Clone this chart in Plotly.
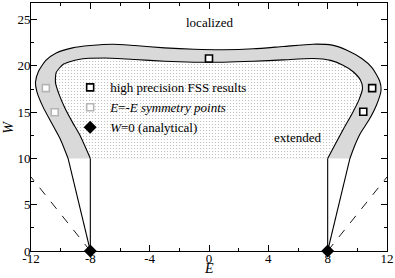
import plotly.graph_objects as go

# ---- data ----
# outer boundary of the critical band (W >= 10)
outer_E = [-9.5, -10.0, -10.6, -11.2, -11.6, -11.7, -11.5, -11.0, -10.3, -9.2, -8.0, -6.5, -5.0, -3.0, -1.0,
           1.0, 3.0, 5.0, 7.0, 8.3, 9.3, 10.3, 11.0, 11.5, 11.6, 11.3, 10.8, 10.2, 9.8, 9.5]
outer_W = [10.0, 12.0, 13.8, 15.6, 17.2, 18.2, 19.4, 20.6, 21.4, 21.95, 22.2, 22.35, 22.2, 21.95, 21.8,
           21.75, 21.85, 22.1, 22.35, 22.25, 21.7, 20.8, 19.8, 18.4, 17.4, 15.8, 14.2, 12.7, 11.3, 10.0]
# inner boundary (extended region, W >= 10)
inner_E = [-8.0, -8.7, -9.2, -9.7, -10.1, -10.35, -10.3, -9.8, -8.8, -7.0, -5.0, -3.0, -1.0,
           1.0, 3.0, 5.0, 7.0, 8.2, 9.0, 9.7, 10.2, 10.35, 10.1, 9.6, 9.1, 8.6, 8.0]
inner_W = [10.0, 12.5, 13.9, 15.4, 16.9, 18.2, 19.3, 20.2, 20.7, 20.85, 20.7, 20.5, 20.4,
           20.4, 20.5, 20.65, 20.8, 20.6, 20.1, 19.4, 18.5, 17.6, 16.3, 14.7, 13.3, 11.8, 10.0]
# lower parts of the boundaries (W < 10)
left_outer_E, left_outer_W = [-8.0, -9.5], [0.0, 10.0]
left_inner_E, left_inner_W = [-8.0, -8.0], [0.0, 10.0]
right_outer_E, right_outer_W = [8.0, 9.5], [0.0, 10.0]
right_inner_E, right_inner_W = [8.0, 8.0], [0.0, 10.0]
# dashed asymptotes
dash_left_E, dash_left_W = [-8.0, -12.0], [0.0, 8.0]
dash_right_E, dash_right_W = [8.0, 12.0], [0.0, 8.0]
# markers
fss_E = [0.0, 11.0, 10.4]
fss_W = [20.8, 17.6, 15.05]
sym_E = [-11.0, -10.4]
sym_W = [17.6, 15.0]
w0_E = [-8.0, 8.0]
w0_W = [0.0, 0.0]
# tick labels
x_tickvals = [-12, -8, -4, 0, 4, 8, 12]
x_ticktext = ["-12", "-8", "-4", "0", "4", "8", "12"]
y_tickvals = [0, 5, 10, 15, 20, 25]
y_ticktext = ["0", "5", "10", "15", "20", "25"]

FONT = "Liberation Serif"

fig = go.Figure()

# gray band
fig.add_trace(go.Scatter(x=outer_E, y=outer_W, mode="lines", fill="toself",
                         fillcolor="#d9d9d9", line=dict(width=0, shape="spline", smoothing=0.6),
                         showlegend=False, hoverinfo="skip"))
# dotted extended region
fig.add_trace(go.Scatter(x=inner_E, y=inner_W, mode="lines", fill="toself",
                         fillcolor="white",
                         fillpattern=dict(shape=".", fgcolor="#707070", bgcolor="white",
                                          size=3, solidity=0.13),
                         line=dict(width=0, shape="spline", smoothing=0.6),
                         showlegend=False, hoverinfo="skip"))

LINE = dict(color="black", width=1.1)
for ex, wy in [(outer_E, outer_W), (inner_E, inner_W)]:
    fig.add_trace(go.Scatter(x=ex, y=wy, mode="lines",
                             line=dict(color="black", width=1.1, shape="spline", smoothing=0.6),
                             showlegend=False, hoverinfo="skip"))
for ex, wy in [(left_outer_E, left_outer_W), (left_inner_E, left_inner_W),
               (right_outer_E, right_outer_W), (right_inner_E, right_inner_W)]:
    fig.add_trace(go.Scatter(x=ex, y=wy, mode="lines", line=LINE,
                             showlegend=False, hoverinfo="skip"))
for ex, wy in [(dash_left_E, dash_left_W), (dash_right_E, dash_right_W)]:
    fig.add_trace(go.Scatter(x=ex, y=wy, mode="lines",
                             line=dict(color="black", width=0.9, dash="dash"),
                             showlegend=False, hoverinfo="skip"))

fig.add_trace(go.Scatter(x=fss_E, y=fss_W, mode="markers", name="high precision FSS results",
                         marker=dict(symbol="square", size=7, color="white",
                                     line=dict(color="black", width=1.6))))
fig.add_trace(go.Scatter(x=sym_E, y=sym_W, mode="markers",
                         name="<i>E</i>=-<i>E symmetry points</i>",
                         marker=dict(symbol="square", size=7, color="white",
                                     line=dict(color="#b5b5b5", width=1.6))))
fig.add_trace(go.Scatter(x=w0_E, y=w0_W, mode="markers", name="<i>W</i>=0 (analytical)",
                         cliponaxis=False,
                         marker=dict(symbol="diamond", size=10, color="black",
                                     line=dict(color="black", width=0))))

fig.add_annotation(x=0, y=24.7, text="localized", showarrow=False,
                   font=dict(family=FONT, size=13, color="black"))
fig.add_annotation(x=5.95, y=12.3, text="extended", showarrow=False,
                   font=dict(family=FONT, size=13, color="black"))
# axis titles
fig.add_annotation(x=0.5, y=-0.104, xref="paper", yref="paper", text="<i>E</i>",
                   showarrow=False, xanchor="center", yanchor="bottom", borderpad=0,
                   font=dict(family=FONT, size=14, color="black"))
fig.add_annotation(x=-0.065, y=0.5, xref="paper", yref="paper", text="<i>W</i>",
                   showarrow=False, xanchor="center", yanchor="middle", textangle=-90,
                   font=dict(family=FONT, size=14, color="black"))

axis_common = dict(showline=True, linecolor="black", linewidth=1, mirror="ticks",
                   ticks="inside", ticklen=6, tickcolor="black", tickwidth=1,
                   showgrid=False, zeroline=False, automargin=False, tickmode="array",
                   tickfont=dict(family=FONT, size=13, color="black"))

fig.update_xaxes(range=[-12, 12], tickvals=x_tickvals, ticktext=x_ticktext,
                 minor=dict(dtick=2, tick0=-12, ticks="inside", ticklen=3, tickcolor="black"),
                 ticklabelstandoff=-5,
                 **axis_common)
fig.update_yaxes(range=[0, 26.8], tickvals=y_tickvals, ticktext=y_ticktext,
                 minor=dict(dtick=2.5, tick0=0, ticks="inside", ticklen=3, tickcolor="black"),
                 ticklabelstandoff=-3,
                 **axis_common)

fig.update_layout(
    width=395, height=278,
    margin=dict(l=31, r=8, t=3, b=27),
    paper_bgcolor="white", plot_bgcolor="white",
    font=dict(family=FONT, size=13, color="black"),
    legend=dict(x=0.11, y=0.72, xanchor="left", yanchor="top",
                bgcolor="rgba(0,0,0,0)", borderwidth=0,
                font=dict(family=FONT, size=13, color="black"),
                itemwidth=30, tracegroupgap=0),
)

fig.write_html("out.html", config={"displayModeBar": False},
               post_script="document.body.style.margin='0';")
